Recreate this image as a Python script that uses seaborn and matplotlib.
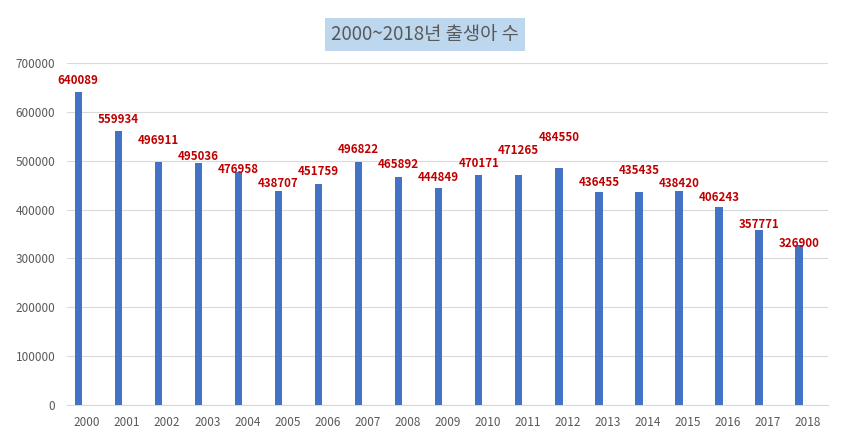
import matplotlib
matplotlib.use("Agg")
import matplotlib.pyplot as plt
import seaborn as sns
import pandas as pd

years = [str(y) for y in range(2000, 2019)]
births = [640089, 559934, 496911, 495036, 476958, 438707, 451759, 496822, 465892,
          444849, 470171, 471265, 484550, 436455, 435435, 438420, 406243, 357771, 326900]
y_ticks = [0, 100000, 200000, 300000, 400000, 500000, 600000, 700000]
title = "2000~2018년 출생아 수"
# label offsets above bar top, in pixels (layout only)
label_offsets_px = [12, 12, 22, 7, 2, 7, 13, 13, 13, 10, 12, 24, 31, 9, 22, 7, 9, 6, 2]

df = pd.DataFrame({"year": years, "births": births})

sns.set_theme(style="white")
plt.rcParams['font.family'] = ['Noto Sans CJK KR', 'DejaVu Sans']

fig = plt.figure(figsize=(8.5, 4.45), dpi=100)
ax = fig.add_axes([67/850, 1 - 405/445, (828 - 67)/850, (405 - 63)/445])

sns.barplot(data=df, x="year", y="births", color="#4472C4", width=0.185,
            saturation=1, ax=ax, zorder=3)

# shift bars left within each category (hidden second series in original)
shift = -0.22
for p in ax.patches:
    p.set_x(p.get_x() + shift)
    p.set_edgecolor("none")

ax.set_ylim(0, 700000)
ax.set_xlim(-0.5, len(years) - 0.5)
ax.set_yticks(y_ticks)
ax.set_yticklabels([str(v) for v in y_ticks])
ax.set_xlabel("")
ax.set_ylabel("")
ax.yaxis.grid(True, color="#D9D9D9", linewidth=0.8, zorder=0)
ax.xaxis.grid(False)
for s in ["top", "right", "left"]:
    ax.spines[s].set_visible(False)
ax.spines["bottom"].set_color("#D9D9D9")
ax.spines["bottom"].set_linewidth(0.8)
ax.tick_params(axis="both", length=0, colors="#595959", labelsize=8.5)
ax.tick_params(axis="y", pad=8.5)
ax.tick_params(axis="x", pad=8)

for i, (v, off) in enumerate(zip(births, label_offsets_px)):
    ax.annotate(str(v), xy=(i + shift, v), xytext=(0, off * 0.72),
                textcoords="offset points", ha="center", va="center",
                color="#C00000", fontsize=8.3, fontweight="bold", zorder=5)

fig.text(425/850, 1 - 34.5/445, title, ha="center", va="center", fontsize=13.5,
         color="#595959",
         bbox=dict(boxstyle="square,pad=0.3", facecolor="#BDD7EE", edgecolor="none"))

fig.savefig("out.png", dpi=100, facecolor="white")
